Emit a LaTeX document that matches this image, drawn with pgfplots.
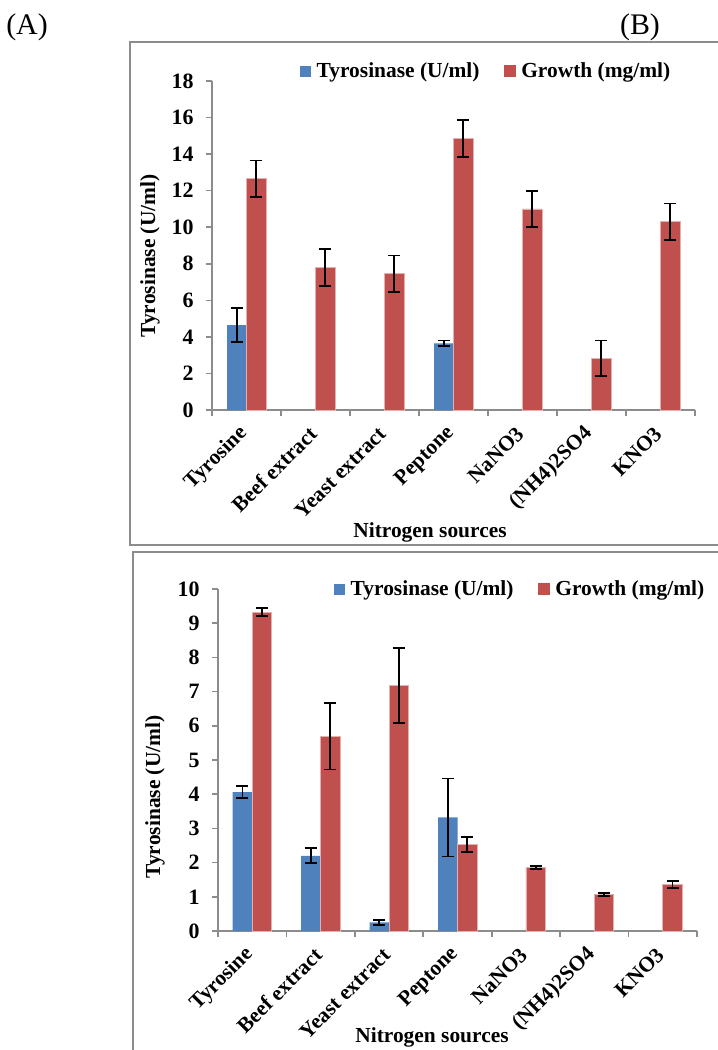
\documentclass[border=0pt]{standalone}
\usepackage{fontspec}
\setmainfont{Liberation Serif}
\usepackage{pgfplots}
\pgfplotsset{compat=1.18}
\definecolor{tyr}{HTML}{4F81BD}
\definecolor{gro}{HTML}{C0504D}
\definecolor{axgray}{HTML}{8C8C8C}
\newcommand{\fs}{\bfseries\fontsize{21.5}{23}\selectfont}
\newcommand{\fn}{\bfseries\fontsize{22}{24}\selectfont}

\pgfplotsset{
  mystyle/.style={
    scale only axis,
    ybar=0pt, bar width=19.5bp,
    axis lines*=left,
    axis line style={axgray, line width=1.6bp},
    xmin=-0.5, xmax=6.5,
    xtick={0,...,6},
    xticklabels={Tyrosine,Beef extract,Yeast extract,Peptone,NaNO3,(NH4)2SO4,KNO3},
    minor xtick={-0.5,0.5,...,6.5},
    major x tick style={draw=none},
    minor x tick style={axgray, line width=1.6bp},
    y tick style={axgray, line width=1.6bp},
    major tick length=6bp, minor tick length=6bp,
    tick align=outside,
    xticklabel style={font=\fs, yshift=-12bp, rotate=45, anchor=east},
    yticklabel style={font=\fn, xshift=-9bp},
    /pgf/number format/assume math mode=true,
    legend columns=2,
    legend style={draw=none, fill=none, font=\fs, anchor=west,
      /tikz/every even column/.append style={column sep=22bp}},
    error bars/y dir=both, error bars/y explicit,
    error bars/error bar style={black, line width=1.8bp},
    error bars/error mark options={black, line width=1.8bp, mark size=6bp, rotate=90},
  },
  bluebar/.style={fill=tyr, draw=none,
    legend image code/.code={\fill[tyr] (0bp,-5.5bp) rectangle (11bp,5.5bp); \path (15bp,0);}},
  redbar/.style={fill=gro, draw=gro!45, line width=0.8bp,
    legend image code/.code={\fill[gro] (0bp,-5.5bp) rectangle (11bp,5.5bp); \path (15bp,0);}},
}

\begin{document}
\begin{tikzpicture}
\path[use as bounding box] (0,0) rectangle (718bp,-1050bp);
% frames
\draw[axgray, line width=1.6bp] (730bp,-42bp) -- (130bp,-42bp) -- (130bp,-545bp) -- (730bp,-545bp);
\draw[axgray, line width=1.6bp] (730bp,-552bp) -- (133bp,-552bp) -- (133bp,-1060bp);
% panel letters
\node[font=\fontsize{30}{32}\selectfont] at (27bp,-27bp) {(A)};
\node[font=\fontsize{30}{32}\selectfont] at (640bp,-27bp) {(B)};

% top axis
\begin{axis}[mystyle,
  at={(212bp,-410bp)}, anchor=south west,
  width=483bp, height=329bp,
  ymin=0, ymax=18, ytick={0,2,...,18},
  legend style={at={(0.175,1.03)}},
]
\addplot[bluebar] coordinates {(0,4.65) +- (0,0.95) (3,3.65) +- (0,0.15)};
\addlegendentry{Tyrosinase (U/ml)}
\addplot[redbar] coordinates {(0,12.65) +- (0,1.0) (1,7.8) +- (0,1.0) (2,7.45) +- (0,1.0) (3,14.85) +- (0,1.0) (4,11.0) +- (0,1.0) (5,2.83) +- (0,0.97) (6,10.3) +- (0,1.0)};
\addlegendentry{Growth (mg/ml)}
\end{axis}

% bottom axis
\begin{axis}[mystyle,
  at={(218bp,-931bp)}, anchor=south west,
  width=479bp, height=342bp,
  ymin=0, ymax=10, ytick={0,1,...,10},
  legend style={at={(0.235,1.0)}},
]
\addplot[bluebar] coordinates {(0,4.06) +- (0,0.18) (1,2.2) +- (0,0.22) (2,0.25) +- (0,0.07) (3,3.32) +- (0,1.14)};
\addlegendentry{Tyrosinase (U/ml)}
\addplot[redbar] coordinates {(0,9.32) +- (0,0.12) (1,5.69) +- (0,0.97) (2,7.18) +- (0,1.1) (3,2.53) +- (0,0.22) (4,1.86) +- (0,0.05) (5,1.07) +- (0,0.05) (6,1.36) +- (0,0.1)};
\addlegendentry{Growth (mg/ml)}
\end{axis}

% axis labels
\node[font=\fs, rotate=90] at (150bp,-256bp) {Tyrosinase (U/ml)};
\node[font=\fs] at (430bp,-532bp) {Nitrogen sources};
\node[font=\fs, rotate=90] at (155bp,-797bp) {Tyrosinase (U/ml)};
\node[font=\fs] at (432bp,-1037bp) {Nitrogen sources};
\end{tikzpicture}
\end{document}
